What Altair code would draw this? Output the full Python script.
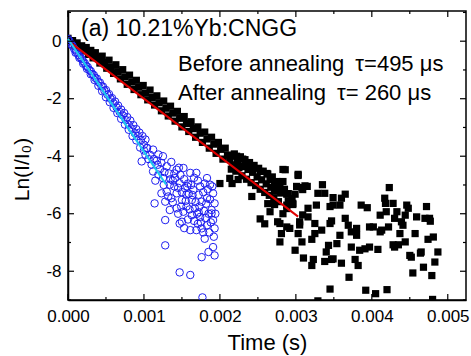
import altair as alt
import pandas as pd

# ---------------- data (time in ms, value = ln(I/I0)) ----------------
before_pts = [
    (0.00, 0.10), (0.03, -0.02), (0.06, 0.02), (0.09, -0.14), (0.12, -0.06), (0.15, -0.22),
    (0.18, -0.16), (0.21, -0.34), (0.24, -0.22), (0.27, -0.46), (0.30, -0.32), (0.33, -0.58),
    (0.36, -0.40), (0.39, -0.58), (0.42, -0.76), (0.45, -0.52), (0.48, -0.74), (0.51, -0.94),
    (0.54, -0.66), (0.57, -0.90), (0.60, -1.12), (0.63, -0.82), (0.66, -1.06), (0.69, -1.31),
    (0.72, -0.99), (0.75, -1.24), (0.78, -1.50), (0.81, -1.18), (0.84, -1.42), (0.87, -1.68),
    (0.90, -1.36), (0.93, -1.60), (0.96, -1.86), (0.99, -1.54), (1.02, -1.80), (1.05, -2.04),
    (1.08, -1.70), (1.11, -1.96), (1.14, -2.22), (1.17, -1.90), (1.20, -2.14), (1.23, -2.42),
    (1.26, -2.08), (1.29, -2.33), (1.32, -2.60), (1.35, -2.26), (1.38, -2.50), (1.41, -2.78),
    (1.44, -2.44), (1.47, -2.68), (1.50, -2.98), (1.53, -2.62), (1.56, -2.86), (1.59, -3.14),
    (1.62, -2.80), (1.65, -3.04), (1.68, -3.34), (1.71, -2.98), (1.74, -3.20), (1.77, -3.52),
    (1.80, -3.16), (1.83, -3.40), (1.86, -3.72), (1.89, -3.34), (1.92, -3.58), (1.95, -3.90),
    (1.98, -3.52), (2.01, -3.76), (2.04, -4.10), (2.07, -3.72), (2.10, -3.96),
    (2.13, -4.10), (2.15, -4.45), (2.17, -4.30), (2.19, -3.92), (2.21, -4.52), (2.23, -4.18),
    (2.25, -4.40), (2.27, -4.02), (2.29, -4.68), (2.31, -4.36), (2.33, -4.12), (2.35, -4.80),
    (2.37, -4.46), (2.39, -4.22), (2.41, -4.92), (2.43, -4.56), (2.45, -4.32), (2.47, -5.02),
    (2.49, -4.72), (2.51, -4.42), (2.53, -5.15), (2.55, -4.82), (2.57, -4.52), (2.59, -5.26),
    (2.61, -4.96), (2.63, -4.62), (2.65, -5.36), (2.67, -5.08), (2.69, -4.72), (2.71, -5.46),
    (2.73, -5.22), (2.75, -4.88), (2.77, -5.58), (2.80, -5.28), (2.85, -5.15), (2.90, -5.55),
    (2.00, -4.95), (2.13, -4.77), (2.16, -4.95), (2.24, -4.81), (2.42, -5.40), (2.53, -6.18),
    (2.59, -6.35), (2.66, -5.93), (2.72, -5.68), (2.63, -5.65), (2.83, -4.46), (2.83, -4.88),
    (2.72, -5.16), (3.03, -4.63), (3.01, -5.05), (3.09, -5.16), (3.15, -5.05), (2.90, -5.30),
    (2.95, -5.47), (2.96, -5.68), (2.88, -5.82), (2.83, -6.00), (2.76, -6.28), (2.88, -6.46),
    (3.05, -6.39), (3.09, -6.04), (2.22, -4.00), (2.30, -4.10), (2.36, -4.25), (2.43, -4.42),
    (2.53, -4.53), (2.62, -4.60), (2.66, -4.81), (2.72, -4.95), (2.79, -5.12),
    (2.86, -4.47), (3.03, -4.67), (3.08, -5.09), (3.12, -5.03), (3.35, -4.99), (3.29, -5.29),
    (3.38, -5.29), (3.49, -5.44), (3.60, -5.46), (3.65, -5.32), (3.49, -5.70), (3.58, -5.70),
    (3.16, -5.81), (3.27, -5.70), (3.45, -5.75), (3.65, -6.16), (3.69, -6.40), (3.73, -6.63),
    (3.80, -6.51), (3.80, -6.75), (3.86, -5.70), (3.94, -5.79), (4.17, -5.46), (4.18, -5.64),
    (4.28, -5.64), (4.23, -5.09), (4.46, -5.70), (4.48, -5.81), (4.72, -5.75), (4.11, -6.05),
    (4.19, -5.93), (4.33, -5.93), (4.30, -6.16), (4.44, -6.05), (4.39, -6.28), (4.59, -6.11),
    (4.70, -6.16), (4.77, -6.26), (3.97, -6.46), (4.02, -6.46), (4.11, -6.63), (4.13, -6.57),
    (4.22, -6.46), (4.41, -6.40), (4.37, -6.69), (4.57, -6.69), (4.74, -6.89), (4.81, -6.81),
    (3.58, -6.75), (3.54, -7.04), (3.43, -7.10), (3.40, -7.33), (3.38, -7.66), (3.47, -7.59),
    (3.60, -7.72), (3.73, -7.16), (3.78, -7.59), (3.82, -7.80), (3.84, -7.27), (3.91, -7.22),
    (3.97, -7.16), (4.08, -7.24), (4.28, -7.08), (4.35, -7.08), (4.44, -6.98), (4.30, -7.16),
    (4.50, -7.45), (4.65, -7.33), (4.83, -7.68), (4.87, -7.33), (4.68, -7.86), (4.79, -8.15),
    (4.54, -8.06), (3.08, -6.98), (2.99, -7.27), (3.10, -7.54), (3.21, -7.80), (3.23, -7.59),
    (3.49, -7.57), (3.25, -6.69), (3.21, -6.89), (3.03, -6.69), (2.79, -6.34), (2.81, -6.69),
    (2.79, -6.98), (3.70, -8.21), (3.45, -8.62), (3.92, -8.66), (4.05, -8.78), (4.20, -8.64),
    (3.29, -9.03), (4.80, -8.98), (3.16, -6.11), (3.25, -6.34), (3.34, -6.57), (3.45, -6.34),
    (3.47, -6.25), (2.88, -5.32), (2.99, -5.32), (2.96, -5.64), (2.88, -5.70), (3.05, -6.28),
    (2.92, -6.51), (4.76, -6.16), (4.52, -7.51), (4.64, -7.37),
]

after_pts = [
    (0.00, 0.08), (0.02, 0.00), (0.04, -0.10), (0.06, -0.16), (0.08, -0.26), (0.10, -0.32),
    (0.12, -0.40), (0.14, -0.48), (0.16, -0.55), (0.18, -0.62), (0.20, -0.70), (0.22, -0.76),
    (0.24, -0.86), (0.26, -0.90), (0.28, -1.00), (0.30, -1.04), (0.32, -1.14), (0.34, -1.18),
    (0.36, -1.28), (0.38, -1.30), (0.40, -1.42), (0.42, -1.44), (0.44, -1.56), (0.46, -1.58),
    (0.48, -1.72), (0.50, -1.70), (0.52, -1.86), (0.54, -1.84), (0.56, -2.00), (0.58, -1.98),
    (0.60, -2.16), (0.62, -2.10), (0.64, -2.30), (0.66, -2.24), (0.68, -2.46), (0.70, -2.38),
    (0.72, -2.58), (0.74, -2.50), (0.76, -2.74), (0.78, -2.64), (0.80, -2.90), (0.82, -2.76),
    (0.84, -3.04), (0.86, -2.92), (0.88, -3.20), (0.90, -3.06), (0.92, -3.30), (0.94, -3.18),
    (0.96, -3.44), (0.98, -3.30), (1.00, -3.60), (1.02, -3.42), (1.04, -3.72),
    (0.10, -0.40), (0.20, -0.78), (0.30, -1.15), (0.40, -1.55), (0.50, -1.95), (0.60, -2.32),
    (0.70, -2.70), (0.80, -3.08), (0.90, -3.45), (0.95, -3.70), (0.85, -3.30), (0.75, -2.90),
    (0.65, -2.50), (0.55, -2.12), (0.45, -1.74), (0.35, -1.35), (0.25, -0.96), (0.15, -0.58),
    (1.04, -3.71), (1.12, -3.77), (1.19, -3.94), (1.25, -4.00), (1.23, -4.23), (1.10, -4.29),
    (0.97, -4.18), (1.12, -4.53), (1.19, -4.64), (1.25, -4.76), (1.43, -4.47), (1.52, -4.41),
    (1.61, -4.58), (1.69, -4.58), (1.83, -4.76), (1.87, -4.99), (1.91, -5.29), (1.93, -5.64),
    (1.89, -5.87), (1.41, -4.76), (1.47, -4.94), (1.34, -4.99), (1.54, -5.11), (1.43, -5.29),
    (1.30, -5.23), (1.36, -5.46), (1.50, -5.52), (1.56, -5.34), (1.65, -5.17), (1.74, -5.05),
    (1.72, -5.34), (1.63, -5.52), (1.76, -5.58), (1.83, -5.46), (1.23, -5.29), (1.28, -5.58),
    (1.34, -5.87), (1.14, -5.64), (1.28, -6.22), (1.28, -7.10), (1.47, -6.34), (1.50, -6.28),
    (1.61, -6.57), (1.69, -6.57), (1.76, -6.51), (1.83, -6.40), (1.74, -6.11), (1.63, -6.05),
    (1.52, -5.93), (1.43, -5.81), (1.56, -5.75), (1.67, -5.81), (1.80, -6.87), (1.91, -7.16),
    (1.93, -7.45), (1.85, -7.33), (1.76, -7.51), (1.93, -6.51), (1.91, -6.22), (1.89, -5.99),
    (1.47, -8.04), (1.61, -8.13), (1.77, -8.91),
    (1.30, -4.35), (1.33, -4.60), (1.36, -4.20), (1.38, -4.85), (1.40, -5.05), (1.45, -5.10),
    (1.48, -4.65), (1.50, -5.25), (1.53, -4.80), (1.55, -5.55), (1.58, -4.95), (1.59, -5.30),
    (1.60, -5.85), (1.62, -5.00), (1.64, -5.35), (1.66, -4.75), (1.68, -5.60), (1.70, -6.00),
    (1.71, -4.85), (1.73, -5.75), (1.75, -6.30), (1.78, -5.25), (1.79, -5.90), (1.80, -4.95),
    (1.81, -6.15), (1.82, -5.65), (1.84, -5.15), (1.85, -6.00), (1.86, -6.65), (1.87, -5.50),
    (1.88, -6.30), (1.90, -5.05), (1.92, -6.80), (1.94, -6.00), (1.78, -6.65), (1.71, -6.35),
    (1.58, -6.20), (1.53, -6.50), (1.45, -6.00), (1.38, -5.60), (1.32, -5.40), (1.26, -5.00),
    (1.21, -4.45), (1.17, -4.15), (1.15, -4.85), (1.08, -3.95), (1.06, -4.10), (1.02, -3.95),
    (1.00, -3.80), (1.13, -4.10), (1.18, -4.30), (1.27, -4.55), (1.35, -4.80), (1.40, -4.60),
    (1.46, -4.40), (1.49, -5.75), (1.57, -5.05), (1.66, -6.25), (1.72, -5.95),
]

fit_before_t = [0.03, 3.03]
fit_before_y = [-0.04, -6.10]
fit_after_t = [0.00, 1.29]
fit_after_y = [0.08, -4.98]

x_major = [0.000, 0.001, 0.002, 0.003, 0.004, 0.005]
x_minor = [0.0005, 0.0015, 0.0025, 0.0035, 0.0045]
y_major = [-8, -6, -4, -2, 0]
y_minor = [-9, -7, -5, -3, -1, 1]

label_a = "(a) 10.21%Yb:CNGG"
label_before = "Before annealing\u2002\u03c4=495 \u03bcs"
label_after = "After annealing\u2002\u03c4= 260 \u03bcs"

# ---------------- chart ----------------
W, H = 398, 289
FONT = "Liberation Sans"
xs = alt.Scale(domain=[0, 0.00524], nice=False, zero=False)
ys = alt.Scale(domain=[-9, 1.05], nice=False, zero=False)

df_b = pd.DataFrame(before_pts, columns=["t_ms", "v"])
df_b["t"] = df_b["t_ms"] / 1000
df_a = pd.DataFrame(after_pts, columns=["t_ms", "v"])
df_a["t"] = df_a["t_ms"] / 1000
df_fb = pd.DataFrame({"t": [v / 1000 for v in fit_before_t], "v": fit_before_y})
df_fa = pd.DataFrame({"t": [v / 1000 for v in fit_after_t], "v": fit_after_y})

x_axis = alt.Axis(values=x_major, format=".3f", ticks=False, grid=False, labelFlush=False,
                  labelFont=FONT, labelFontSize=17, labelColor="black", labelPadding=8,
                  domainColor="black", domainWidth=1.5,
                  title="Time (s)", titleFont=FONT, titleFontSize=22, titleFontWeight="normal",
                  titleColor="black", titleBaseline="alphabetic", titleY=49)
y_axis = alt.Axis(values=y_major, labelExpr="'' + datum.value", ticks=False, grid=False,
                  labelFlush=False,
                  labelFont=FONT, labelFontSize=17, labelColor="black", labelPadding=7,
                  domainColor="black", domainWidth=1.5,
                  title="Ln(I/I\u2080)", titleFont=FONT, titleFontSize=21, titleFontWeight="normal",
                  titleColor="black", titleAngle=270, titleAlign="center", titleBaseline="middle",
                  titleX=-46, titleY=158)


def X():
    return alt.X("t:Q", scale=xs, axis=x_axis)


def Y():
    return alt.Y("v:Q", scale=ys, axis=y_axis)


black = alt.Chart(df_b).mark_square(size=52, color="black", opacity=1, clip=True).encode(x=X(), y=Y())
blue = alt.Chart(df_a).mark_point(shape="circle", size=56, filled=False, color="#1f1ff0",
                                  strokeWidth=1, opacity=1, clip=True).encode(x=X(), y=Y())
red = alt.Chart(df_fb).mark_line(color="#e00000", strokeWidth=2).encode(x=X(), y=Y())
cyan = alt.Chart(df_fa).mark_line(color="#1ec8f0", strokeWidth=2).encode(x=X(), y=Y())


def xticks(vals, length):
    d = pd.DataFrame({"t": vals})
    bottom = alt.Chart(d).mark_rule(color="black", strokeWidth=1.2).encode(
        x=X(), y=alt.value(H), y2=alt.value(H - length))
    top = alt.Chart(d).mark_rule(color="black", strokeWidth=1.2).encode(
        x=X(), y=alt.value(0), y2=alt.value(length))
    return [bottom, top]


def yticks(vals, length):
    d = pd.DataFrame({"v": vals})
    left = alt.Chart(d).mark_rule(color="black", strokeWidth=1.2).encode(
        y=Y(), x=alt.value(0), x2=alt.value(length))
    right = alt.Chart(d).mark_rule(color="black", strokeWidth=1.2).encode(
        y=Y(), x=alt.value(W), x2=alt.value(W - length))
    return [left, right]


def label(txt, x, y, size):
    return alt.Chart(pd.DataFrame({"s": [txt]})).mark_text(
        align="left", baseline="alphabetic", font=FONT, fontSize=size, color="black").encode(
        text="s:N", x=alt.value(x), y=alt.value(y))


layers = [black, blue, red, cyan]
layers += xticks(x_major, 6) + xticks(x_minor, 3) + yticks(y_major, 6) + yticks(y_minor, 3)
layers += [label(label_a, 13, 25, 23), label(label_before, 110, 60, 22), label(label_after, 110, 89, 22)]

chart = alt.layer(*layers).properties(
    width=W, height=H,
    autosize=alt.AutoSizeParams(type="none"),
    padding={"left": 68, "top": 11, "right": 5, "bottom": 56},
    background="white",
).configure_view(stroke="black", strokeWidth=1.5)

chart.save("out.html", embed_options={"renderer": "svg", "actions": False})
